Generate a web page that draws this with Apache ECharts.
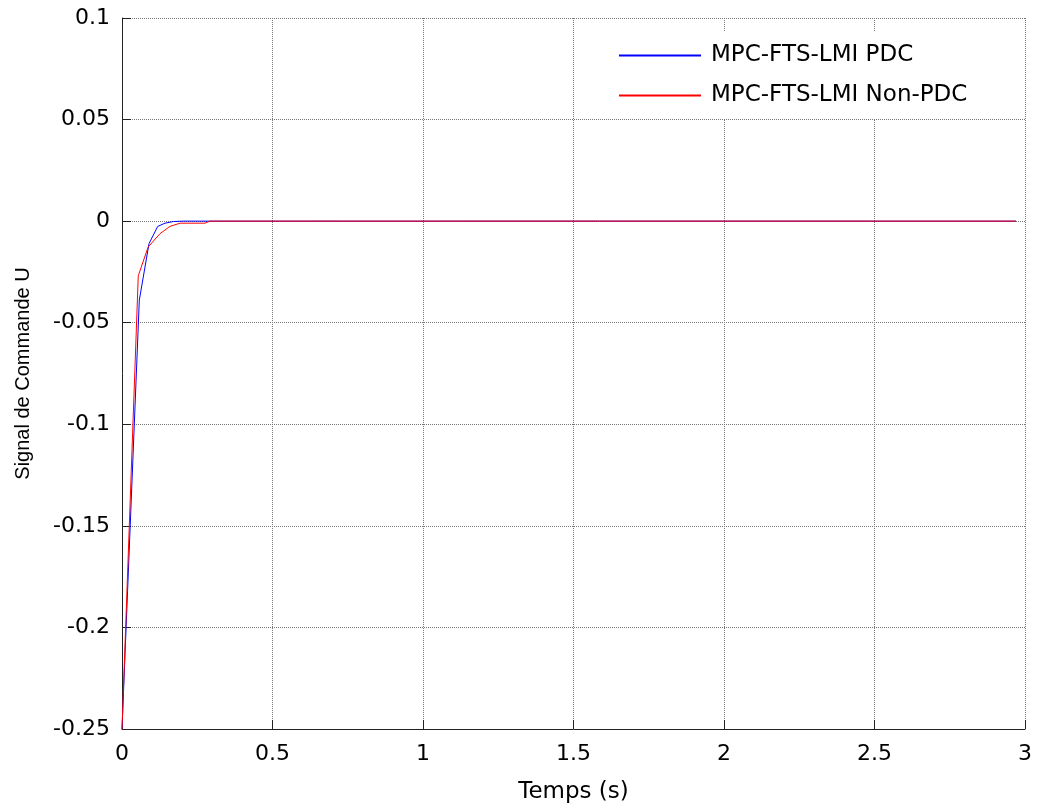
<!DOCTYPE html>
<html>
<head>
<meta charset="utf-8">
<script src="https://cdn.jsdelivr.net/npm/echarts@6/dist/echarts.min.js"></script>
<style>
html,body{margin:0;padding:0;background:#fff;}
#chart{width:1041px;height:809px;}
</style>
</head>
<body>
<div id="chart"></div>
<script>
// Data
const seriesNames = ['MPC-FTS-LMI PDC', 'MPC-FTS-LMI Non-PDC'];
const seriesColors = ['#0000ff', '#ff0000'];
const timeBlue = [0, 0.0575, 0.0897, 0.1186, 0.1429, 0.1704, 0.2027, 2.97];
const uBlue    = [-0.25, -0.0389, -0.0111, -0.0026, -0.0010, -0.0002, 0, 0];
const timeRed  = [0, 0.054, 0.087, 0.126, 0.159, 0.193, 0.276, 0.292, 2.97];
const uRed     = [-0.25, -0.0269, -0.0127, -0.0062, -0.0026, -0.0010, -0.0010, 0, 0];
const xTicks = [0, 0.5, 1, 1.5, 2, 2.5, 3];
const yTicks = [-0.25, -0.2, -0.15, -0.1, -0.05, 0, 0.05, 0.1];

const pair = (t, v) => t.map((x, i) => [x, v[i]]);
const hFont = 'DejaVu Sans';

const chart = echarts.init(document.getElementById('chart'), null, {renderer: 'canvas'});
chart.setOption({
  animation: false,
  backgroundColor: '#fff',
  grid: {left: 122, right: 16, top: 18, bottom: 78, containLabel: false},
  legend: {
    orient: 'vertical',
    left: 600, top: 32,
    padding: [12, 47, 12, 18],
    backgroundColor: '#fff',
    itemWidth: 82, itemHeight: 14, itemGap: 17,
    itemStyle: {opacity: 0},
    textStyle: {fontFamily: hFont, fontSize: 23, color: '#000', padding: [0, 0, 0, 5]},
    data: seriesNames
  },
  xAxis: {
    type: 'value', min: xTicks[0], max: xTicks[xTicks.length - 1], interval: 0.5,
    name: 'Temps (s)', nameLocation: 'middle', nameGap: 52,
    nameTextStyle: {fontFamily: hFont, fontSize: 23, color: '#000'},
    axisLine: {show: true, onZero: false, lineStyle: {color: '#222', width: 1}},
    axisTick: {show: true, inside: true, length: 9, lineStyle: {color: '#222'}},
    axisLabel: {fontFamily: hFont, fontSize: 22, color: '#000', margin: 14,
      formatter: v => String(v)},
    splitLine: {show: true, lineStyle: {color: '#777', type: 'dotted', width: 1}}
  },
  yAxis: {
    type: 'value', min: yTicks[0], max: yTicks[yTicks.length - 1], interval: 0.05,
    name: 'Signal de Commande U', nameLocation: 'middle', nameGap: 89,
    nameTextStyle: {fontFamily: 'Liberation Sans', fontSize: 20, color: '#000'},
    axisLine: {show: true, onZero: false, lineStyle: {color: '#222', width: 1}},
    axisTick: {show: true, inside: true, length: 9, lineStyle: {color: '#222'}},
    axisLabel: {fontFamily: hFont, fontSize: 22, color: '#000', margin: 12,
      formatter: v => String(Math.round(v * 100) / 100)},
    splitLine: {show: true, lineStyle: {color: '#777', type: 'dotted', width: 1}}
  },
  series: [
    {name: seriesNames[0], type: 'line', data: pair(timeBlue, uBlue), symbol: 'none',
     lineStyle: {color: seriesColors[0], width: 1}, itemStyle: {color: seriesColors[0]}},
    {name: seriesNames[1], type: 'line', data: pair(timeRed, uRed), symbol: 'none',
     lineStyle: {color: seriesColors[1], width: 1}, itemStyle: {color: seriesColors[1]}}
  ]
});
</script>
</body>
</html>
